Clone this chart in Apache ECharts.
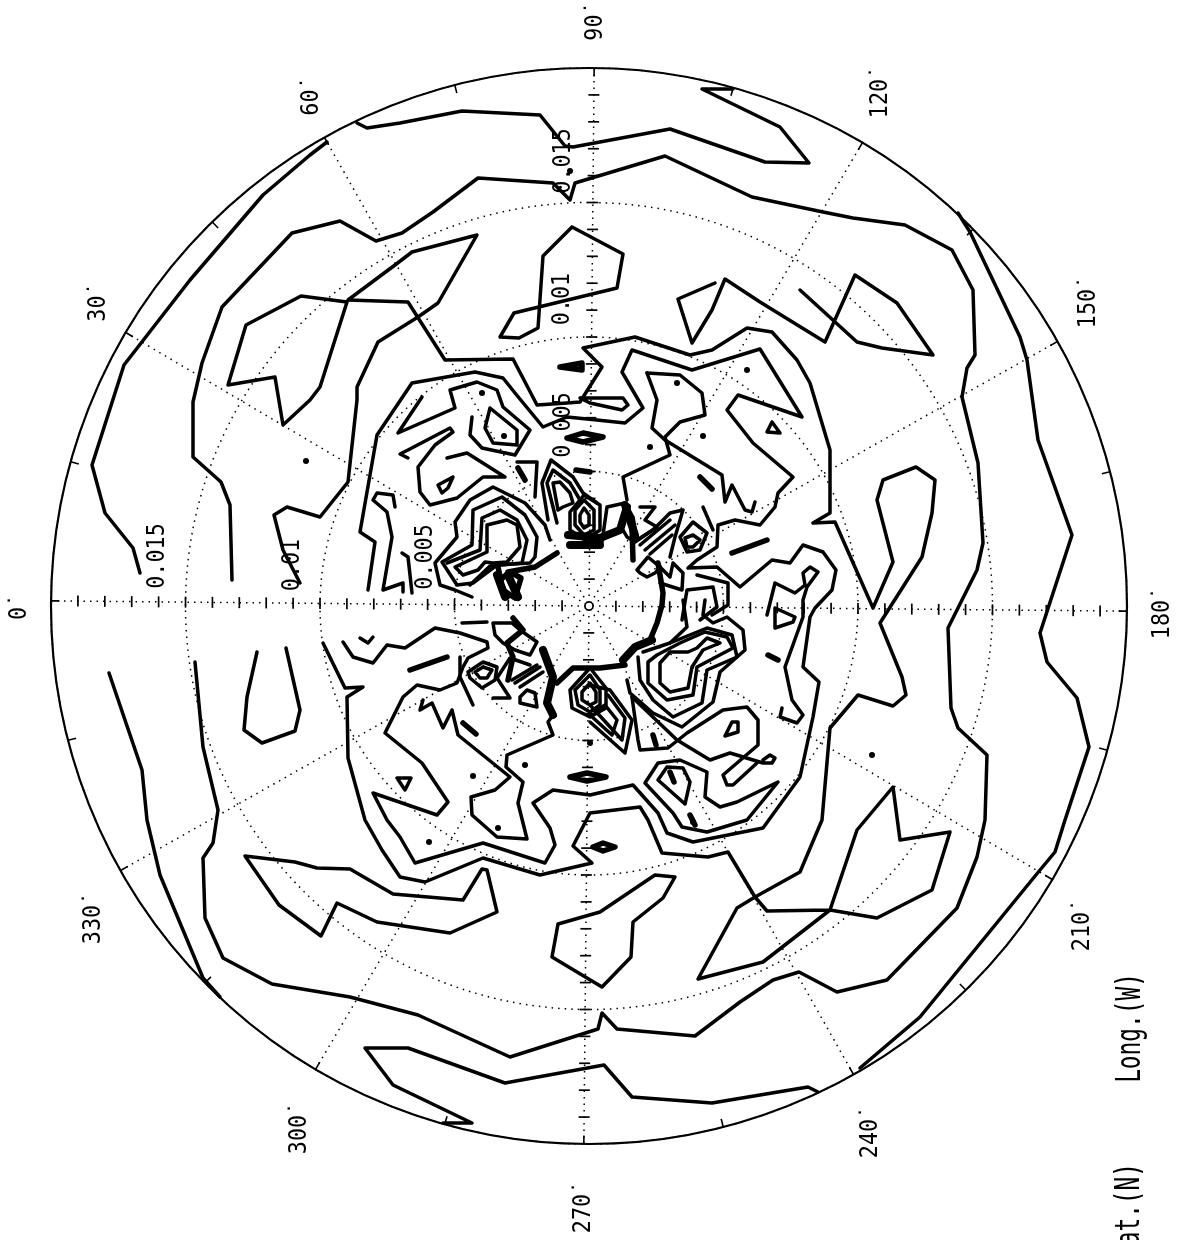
<!DOCTYPE html>
<html><head><meta charset="utf-8"><style>html,body{margin:0;background:#fff}#c{width:1180px;height:1240px}</style>
<script src="https://cdn.jsdelivr.net/npm/echarts@6/dist/echarts.min.js"></script></head><body><div id="c"></div>
<script>
// polar graticule
const longitudes=[0,30,60,90,120,150,180,210,240,270,300,330];
const rimTickLongitudes=[15,45,75,105,135,165,195,225,255,285,315,345,30,60,120,150,210,240,300,330,0,90,180,270];
const colatitudeTicks=[4,8,12,16,20,24,28,32,36,40,44,48,52,56,60,64,68,72,76];
const tickLabels=['0˙','30˙','60˙','90˙','120˙','150˙','180˙','210˙','240˙','270˙','300˙','330˙'];
const contourLabels=['0.015','0.01','0.005','0.015','0.01','0.005'];
const axisTitles=['Long.(W)','Lat.(N)'];

// contour traces, digitised on the map plane
const c1=[[140,573],[133,548],[105,513],[92,465],[124,365],[190,280],[263,195],[310,155],[327,142]];
const c2=[[357,123],[367,128],[400,123],[462,111],[540,115],[565,146],[573,147],[670,129],[765,162],[809,163],[780,127],[702,89],[733,89]];
const c3=[[232,580],[230,505],[221,482],[193,457],[193,402],[202,363],[222,307],[292,233],[340,221],[376,241],[402,233],[433,212],[478,178],[553,183],[570,200],[575,183],[665,156],[752,197],[823,212],[853,218],[905,225],[952,250],[973,290],[975,355],[967,368],[962,397],[978,463],[983,543],[977,570],[948,628],[951,708],[958,728],[987,755],[985,820],[977,857],[957,908],[887,980],[837,992],[799,972],[773,980],[740,1002],[695,1036],[617,1029],[602,1013],[598,1029],[510,1057],[418,1015],[350,997],[272,984],[223,958],[205,918],[203,858],[213,843],[218,810],[203,747],[195,662]];
const c4=[[958,213],[970,232],[1020,337],[1027,360],[1038,440],[1072,535],[1040,633],[1047,662],[1077,698],[1089,747],[1065,820],[1055,852],[1040,870],[920,1017],[860,1068]];
const c5=[[818,1092],[808,1087],[712,1103],[632,1097],[604,1065],[505,1083],[408,1048],[365,1048],[393,1085],[472,1123],[443,1123]];
const c6=[[109,673],[142,770],[147,820],[160,875],[203,978],[220,997]];
const c7=[[257,652],[247,697],[244,730],[262,743],[295,731],[300,710],[286,648]];
const c8=[[283,425],[275,377],[228,385],[246,325],[301,296],[347,302],[320,387],[310,400],[283,425]];
const c9=[[300,583],[283,550],[274,515],[287,507],[320,517],[348,482],[357,400],[357,387],[378,342],[418,317],[438,303],[477,235],[412,252],[395,265],[348,300],[408,302],[445,360],[513,359],[537,405],[567,403],[580,402],[602,367],[583,348],[635,337],[690,355],[712,350],[747,328],[772,332],[797,360],[810,383],[830,450],[830,513],[813,523],[835,522],[873,608],[893,562],[877,500],[883,480],[916,467],[935,480],[932,513],[922,557],[880,623],[902,677],[906,695],[893,706],[858,695],[830,728],[822,820],[800,872],[755,897],[737,908],[698,979],[763,962],[830,910],[857,830],[893,787],[900,840],[950,832],[932,890],[877,918],[830,910],[767,911],[755,897],[728,852],[708,857],[662,853],[648,820],[640,807],[590,813],[573,846],[592,863],[540,875],[483,858],[425,882],[400,877],[382,850],[365,820],[348,758],[347,697],[363,687],[345,688],[323,643]];
const c10=[[715,283],[678,299],[692,343],[712,310],[725,279],[760,302],[825,342],[855,275],[897,303],[933,355],[882,348],[857,342],[800,290]];
const ringE=[[368,590],[375,542],[360,532],[377,435],[412,383],[475,372],[503,378],[515,393],[543,427],[567,417],[597,420],[625,423],[643,408],[622,372],[632,350],[692,370],[760,349],[802,417],[738,395],[727,410],[753,443],[793,477],[778,493],[775,507],[760,525],[735,520],[718,525],[717,547],[697,560],[688,568],[717,567],[740,587],[772,560],[790,563],[803,545],[823,552],[836,570],[832,590],[815,608],[810,617],[803,667],[819,682],[813,717],[800,777],[763,828],[693,842],[667,833],[658,813],[633,785],[590,795],[553,790],[533,803],[550,828],[555,845],[545,863],[483,843],[415,863],[400,837],[387,820],[373,793],[437,815],[448,802],[422,763],[385,733],[403,697],[417,685],[440,690],[457,683],[463,667],[468,658],[488,648],[487,642],[460,633],[435,628],[405,648],[387,645],[373,663],[353,657],[343,642]];
const lens=[[580,398],[623,398],[628,405],[622,410],[590,403],[580,398]];
const g1=[[395,507],[393,495],[377,493],[373,500],[387,512],[392,537],[383,590],[403,583],[403,592]];
const g2=[[402,553],[408,557],[412,593]];
const h1=[[472,417],[470,435],[482,448],[515,455],[530,430],[503,407],[497,390],[477,382],[450,390],[455,408],[398,433],[422,397]];
const h2=[[490,408],[485,428],[493,443],[517,445],[517,430],[490,408]];
const h4=[[447,458],[467,453],[505,477],[483,477],[457,498],[430,505],[420,492],[418,467],[435,445],[453,432],[450,428],[408,450],[400,454],[408,458]];
const h5=[[453,477],[438,485],[442,493],[448,488],[453,477]];
const h6=[[517,462],[537,462],[535,497]];
const a1=[[472,597],[455,590],[440,585],[435,563],[457,537],[455,522],[470,500],[493,487],[525,503],[545,525],[550,540]];
const a2=[[530,563],[497,565],[473,583],[457,585],[442,562],[472,545],[473,510],[502,497],[525,515],[537,537],[535,557],[530,563]];
const a3=[[447,563],[480,550],[482,518],[500,510],[517,520],[527,540],[522,563],[490,566],[470,585]];
const a4=[[493,563],[507,562],[520,547],[517,525],[507,520],[487,525],[487,552],[455,567],[463,575],[478,570],[485,562],[493,563]];
const b1=[[548,520],[542,483],[551,460],[573,477],[583,493],[597,503]];
const b2=[[557,523],[547,483],[553,470],[570,483],[580,500]];
const b3=[[558,510],[553,483],[560,482],[570,493],[573,503],[563,507],[558,510]];
const e1=[[575,510],[584,500],[594,510],[594,530],[584,535],[575,525],[575,510]];
const e2=[[580,515],[584,508],[589,515],[589,525],[584,528],[580,522],[580,515]];
const e3=[[570,512],[584,495],[600,505],[600,530],[585,540],[570,530],[570,512]];
const z1=[[602,542],[607,507],[625,503],[633,517],[637,540],[653,530],[670,513],[683,510],[675,537],[670,557]];
const z2=[[640,507],[655,507],[645,520],[657,527],[635,542],[627,537],[623,530]];
const z4=[[637,570],[648,557],[660,567],[655,573],[647,577],[640,573],[637,570]];
const z5=[[660,567],[670,577],[673,563],[683,573],[682,590],[660,583]];
const z6=[[640,545],[670,520]];
const z7=[[645,550],[675,525]];
const z8=[[650,554],[672,535]];
const r1=[[680,537],[693,522],[707,533],[700,550],[687,552],[680,537]];
const r2=[[685,538],[693,535],[700,540],[693,547],[687,547],[685,538]];
const r3=[[703,507],[713,530]];
const n1=[[647,373],[680,375],[702,393],[705,415],[680,422],[665,437],[670,455],[623,477],[627,500]];
const n2=[[647,373],[657,400],[652,428],[665,440],[722,475],[725,502],[732,485],[745,510],[752,512],[755,502]];
const tri1=[[772,422],[767,432],[780,433],[772,422]];
const p1=[[572,227],[623,254],[617,288],[514,313],[500,337],[519,338],[538,328],[543,256],[572,227]];
const p2=[[558,924],[600,912],[655,875],[675,877],[663,898],[633,922],[631,957],[602,987],[552,957],[558,924]];
const p3=[[245,856],[295,862],[317,868],[350,869],[393,894],[463,900],[482,869],[487,870],[497,912],[450,933],[377,922],[337,903],[321,936],[279,905],[245,856]];
const q1=[[767,615],[775,583],[795,593],[805,585],[803,573],[810,567],[818,572],[807,587],[803,600],[803,617],[785,667],[792,700],[803,715],[797,723],[780,717],[782,708]];
const q2=[[775,608],[795,617],[793,622],[775,628],[775,608]];
const s2=[[520,703],[537,707],[535,693],[527,690],[520,697],[520,703]];
const s3=[[512,680],[537,665]];
const s3b=[[515,683],[540,667]];
const s3c=[[520,687],[543,672]];
const s4=[[493,623],[512,623],[520,630],[537,642],[530,655],[515,650],[503,643],[495,635],[493,623]];
const s5=[[493,698],[510,698],[497,678],[510,658],[530,665]];
const t1=[[553,715],[548,722],[553,735],[507,755],[506,767],[523,782],[518,803],[527,839],[497,837],[472,815],[471,797],[495,790],[510,777],[458,735],[452,710],[443,728],[432,703],[420,710],[423,700]];
const t2=[[468,672],[483,662],[497,667],[495,680],[482,688],[470,678],[468,672]];
const t2b=[[475,672],[483,667],[492,670],[487,678],[480,678],[475,672]];
const t3=[[460,657],[460,677],[473,705]];
const t4=[[462,623],[487,622]];
const tick1=[[360,638],[368,643],[373,637]];
const center1=[[575,690],[590,675],[600,690],[600,705],[590,712],[578,705],[575,690]];
const center2=[[582,692],[590,683],[596,692],[596,702],[590,705],[582,700],[582,692]];
const center3=[[570,690],[590,668],[606,688],[606,708],[590,717],[572,708],[570,690]];
const v1=[[590,722],[625,753],[632,720],[610,690],[590,685]];
const v2=[[590,705],[622,740],[625,718],[608,695]];
const v3=[[590,715],[612,735],[617,720],[605,705],[595,712]];
const k1=[[660,663],[660,683],[670,692],[688,688],[692,667],[703,650],[720,643],[707,638],[697,648],[688,652],[670,652],[660,663]];
const k2=[[648,662],[648,683],[667,700],[693,695],[697,667],[733,648],[727,637],[705,632],[680,643],[657,655],[648,662]];
const k3=[[638,657],[640,680],[653,700],[673,717],[702,703],[707,670],[737,657],[732,635],[707,628],[670,643],[643,652]];
const k4=[[627,680],[630,693],[653,713],[682,727],[713,702],[720,672],[745,650],[743,630],[727,617],[713,623],[703,615],[705,600]];
const k5=[[697,575],[728,583],[728,605],[712,615]];
const k6=[[682,620],[687,590],[713,587],[717,607],[700,620]];
const l1=[[632,697],[677,740],[710,760],[730,753],[763,763],[772,763],[775,758],[770,755],[763,760]];
const l2=[[632,697],[638,740],[640,750],[668,748],[687,733],[723,710],[747,707],[758,720],[758,745],[723,775],[727,785],[733,785],[757,763]];
const u1=[[645,783],[658,763],[680,760],[707,772],[705,797],[720,807],[737,802],[778,782],[747,820],[707,832],[682,827],[673,813],[645,783]];
const u2=[[658,780],[667,767],[683,768],[690,782],[685,804],[658,780]];
const w1=[[683,600],[687,627],[670,643]];
const v9=[[725,736],[732,722],[738,722],[738,732],[725,736]];
const tri2=[[397,778],[411,778],[405,790],[397,778]];
const thinContours=[c1,c2,c3,c4,c5,c6,c7,c8,c9,c10,ringE,lens,g1,g2,h1,h2,h4,h5,h6,a1,a2,a3,a4,b1,b2,b3,e1,e2,e3,z1,z2,z4,z5,z6,z7,z8,r1,r2,r3,n1,n2,tri1,p1,p2,p3,q1,q2,s2,s3,s3b,s3c,s4,s5,t1,t2,t2b,t3,t4,tick1,center1,center2,center3,v1,v2,v3,k1,k2,k3,k4,k5,k6,l1,l2,u1,u2,w1,v9,tri2];

// very dense, merged trace runs and short closed blobs
const th1=[[557,553],[535,567],[508,572]];
const th2=[[573,533],[600,540],[620,530],[625,505]];
const th3=[[632,527],[633,560]];
const th4=[[658,563],[663,593],[662,605],[657,623],[650,640],[635,647],[623,660]];
const th5=[[513,618],[523,630],[507,643],[513,657],[508,680]];
const th6=[[543,650],[553,677],[547,703],[553,715]];
const th7=[[557,683],[573,668],[600,668],[625,665]];
const th8=[[498,567],[503,590],[515,598],[521,578],[510,572],[500,580],[507,597]];
const bl1=[[567,438],[583,433],[603,437],[583,442],[567,438]];
const bl2=[[560,367],[582,363],[582,370],[560,367]];
const bl3=[[570,777],[587,773],[606,777],[587,781],[570,777]];
const bl4=[[593,847],[603,843],[615,847],[603,851],[593,847]];
const bl5=[[700,477],[712,489]];
const bl6=[[732,553],[767,540]];
const bl7=[[463,723],[476,734]];
const bl8=[[410,670],[447,657]];
const bl9=[[768,655],[778,660]];
const bl10=[[653,735],[656,745]];
const bl11=[[670,772],[674,782]];
const bl12=[[690,815],[695,825]];
const bl13=[[518,468],[525,480]];
const bl14=[[576,470],[590,472]];
const thickContours=[th1,th3,th4,th5,th7,th8,bl1,bl2,bl3,bl4,bl5,bl6,bl7,bl8,bl9,bl10,bl11,bl12,bl13,bl14];
const hv1=[[568,535],[600,538],[620,530],[627,507]];
const hv2=[[570,545],[600,545]];
const hv3=[[625,505],[635,535]];
const hv4=[[543,650],[553,677],[547,703],[553,715]];
const hv5=[[623,660],[635,647],[652,640]];
const hv6=[[497,575],[505,597]];
const hv7=[[508,575],[518,597]];
const heavyContours=[hv1,hv2,hv3,hv4,hv5,hv6,hv7];
const spots=[[306,461],[872,755],[429,842],[498,828],[693,822],[473,776],[525,765],[590,743],[677,383],[703,436],[650,447],[747,370],[482,393],[504,436],[570,171]];

const BLACK='#000';
const series=[];
const addLines=(list,width)=>list.forEach(d=>series.push({type:'line',coordinateSystem:'cartesian2d',data:d,symbol:'none',silent:true,clip:false,z:5,lineStyle:{color:BLACK,width,join:'round',cap:'round'}}));
addLines(thinContours,3.5);
addLines(thickContours,5.5);
addLines(heavyContours,8);
series.push({type:'scatter',coordinateSystem:'cartesian2d',data:spots,symbol:'circle',symbolSize:6,silent:true,itemStyle:{color:BLACK,opacity:1},z:5});

// graticule marks on the polar axes
const OUTER=80;
const rimData=[];
rimTickLongitudes.forEach(l=>{rimData.push([OUTER-1.25,l],[OUTER,l],[null,null]);});
series.push({type:'line',coordinateSystem:'polar',data:rimData,symbol:'none',silent:true,connectNulls:false,lineStyle:{color:BLACK,width:1.6},z:3});
const ticksAt=a=>colatitudeTicks.map(r=>[r,a]);
series.push({type:'scatter',coordinateSystem:'polar',silent:true,symbol:'rect',symbolSize:[1.7,11],itemStyle:{color:BLACK,opacity:1},z:3,data:[...ticksAt(0),...ticksAt(180)]});
series.push({type:'scatter',coordinateSystem:'polar',silent:true,symbol:'rect',symbolSize:[11,1.7],itemStyle:{color:BLACK,opacity:1},z:3,data:[...ticksAt(90),...ticksAt(270)]});
series.push({type:'scatter',coordinateSystem:'polar',silent:true,symbol:'circle',symbolSize:8,itemStyle:{color:'#fff',borderColor:BLACK,borderWidth:1.6,opacity:1},z:4,data:[[0,0]]});

const FONT='"DejaVu Sans Mono"';
const txt=(text,x,y,size,sx)=>({type:'text',x,y,rotation:Math.PI/2,scaleX:sx,silent:true,z:10,style:{text,fill:BLACK,font:size+'px '+FONT,align:'center',verticalAlign:'middle'}});
const tickPos=[[19,607],[98,302],[311,96],[595,21],[880,92],[1088,302],[1162,613],[1082,925],[870,1132],[583,1207],[299,1128],[93,918]];
const contourPos=[[157,556],[292,565],[425,557],[563,161],[562,299],[563,425]];
const graphic=[
 ...tickLabels.map((t,i)=>txt(t,tickPos[i][0],tickPos[i][1],25,0.87)),
 ...contourLabels.map((t,i)=>txt(t,contourPos[i][0],contourPos[i][1],25,0.87)),
 txt(axisTitles[0],1131,1028,34,0.67),
 txt(axisTitles[1],1130,1211,34,0.67)
];

const chart=echarts.init(document.getElementById('c'),null,{renderer:'canvas'});
chart.setOption({
 animation:false,backgroundColor:'#fff',
 grid:{left:0,right:0,top:0,bottom:0,containLabel:false},
 xAxis:{type:'value',min:0,max:1180,show:false},
 yAxis:{type:'value',min:0,max:1240,inverse:true,show:false},
 polar:{center:[589,606],radius:538},
 angleAxis:{type:'value',min:0,max:360,interval:30,startAngle:179.45,clockwise:true,
  axisLine:{show:true,lineStyle:{color:BLACK,width:2.2}},axisTick:{show:false},axisLabel:{show:false},
  splitLine:{show:true,lineStyle:{color:BLACK,width:1.5,type:[1.5,5]}}},
 radiusAxis:{type:'value',min:0,max:OUTER,interval:20,axisLine:{show:false},axisTick:{show:false},axisLabel:{show:false},
  splitLine:{show:true,lineStyle:{color:BLACK,width:1.5,type:[1.5,5]}}},
 series,graphic
});
</script></body></html>
